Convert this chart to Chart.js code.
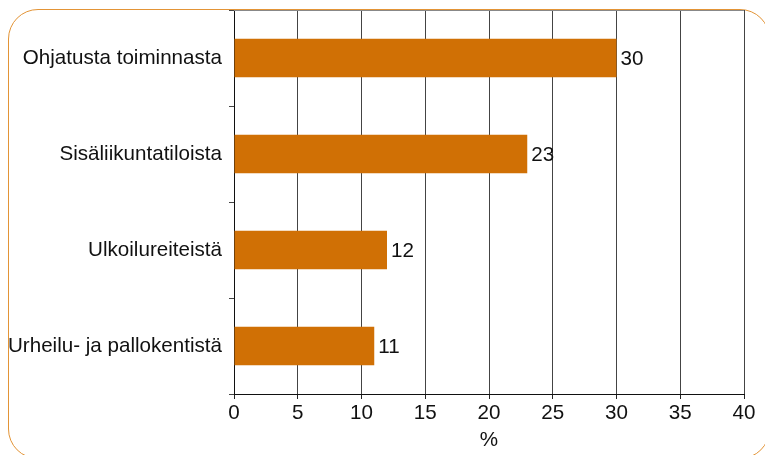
<!DOCTYPE html>
<html>
<head>
<meta charset="utf-8">
<script src="https://cdn.jsdelivr.net/npm/chart.js@4"></script>
<style>
  html, body { margin: 0; padding: 0; background: #fff; }
  #wrap { position: relative; width: 765px; height: 455px; overflow: hidden; }
  #frame {
    position: absolute; left: 8px; top: 9px; width: 762px; height: 450px;
    border: 1px solid #e39436; border-radius: 30px; box-sizing: border-box;
  }
  #chart { position: absolute; left: 0; top: 0; }
</style>
</head>
<body>
<div id="wrap">
  <div id="frame"></div>
  <canvas id="chart" width="765" height="455"></canvas>
</div>
<script>
const categories = ['Ohjatusta toiminnasta', 'Sisäliikuntatiloista', 'Ulkoilureiteistä', 'Urheilu- ja pallokentistä'];
const shares = [30, 23, 12, 11];
const xTicks = [0, 5, 10, 15, 20, 25, 30, 35, 40];

const FONT = "'Liberation Sans', Arial, Helvetica, sans-serif";
const SIZE = 20.6;

// number printed just right of each bar end
const valueLabels = {
  id: 'valueLabels',
  afterDatasetsDraw(chart) {
    const ctx = chart.ctx;
    const meta = chart.getDatasetMeta(0);
    ctx.save();
    ctx.font = SIZE + 'px ' + FONT;
    ctx.fillStyle = '#111';
    ctx.textAlign = 'left';
    ctx.textBaseline = 'middle';
    meta.data.forEach((bar, i) => {
      ctx.fillText(String(shares[i]), bar.x + 4, bar.y + 1);
    });
    ctx.restore();
  }
};

// thin grey line closing the plot at the top
const topEdge = {
  id: 'topEdge',
  beforeDatasetsDraw(chart) {
    const { ctx, chartArea: a } = chart;
    ctx.save();
    ctx.strokeStyle = '#888';
    ctx.lineWidth = 1;
    ctx.beginPath();
    ctx.moveTo(a.left, a.top + 0.5);
    ctx.lineTo(a.right, a.top + 0.5);
    ctx.stroke();
    ctx.restore();
  }
};

new Chart(document.getElementById('chart').getContext('2d'), {
  type: 'bar',
  data: {
    labels: categories,
    datasets: [{
      data: shares,
      backgroundColor: '#d07005',
      borderWidth: 0,
      barPercentage: 0.4,
      categoryPercentage: 1
    }]
  },
  options: {
    indexAxis: 'y',
    responsive: false,
    animation: false,
    devicePixelRatio: 1,
    layout: { padding: { left: 0, right: 21, top: 10, bottom: 0 } },
    plugins: { legend: { display: false }, tooltip: { enabled: false } },
    scales: {
      x: {
        min: 0, max: 40,
        afterBuildTicks: s => { s.ticks = xTicks.map(v => ({ value: v })); },
        afterFit: s => { s.height = 61; },
        grid: { color: '#444', lineWidth: 1, tickLength: 5, tickColor: '#222' },
        border: { color: '#111', width: 1 },
        ticks: { color: '#111', autoSkip: false, font: { family: FONT, size: SIZE }, padding: 2, maxRotation: 0 },
        title: { display: true, text: '%', color: '#111', font: { family: FONT, size: SIZE }, padding: { top: 0, bottom: 2 } }
      },
      y: {
        afterFit: s => { s.width = 234; s.paddingTop = 0; s.paddingBottom = 0; },
        grid: { drawOnChartArea: false, tickColor: '#444', tickLength: 5 },
        border: { color: '#111', width: 1 },
        ticks: { color: '#111', autoSkip: false, font: { family: FONT, size: SIZE }, padding: 7 }
      }
    }
  },
  plugins: [topEdge, valueLabels]
});
</script>
</body>
</html>
